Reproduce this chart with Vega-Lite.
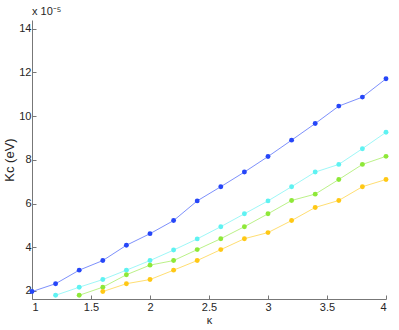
{
  "$schema": "https://vega.github.io/schema/vega-lite/v6.json",
  "width": 354,
  "height": 279,
  "autosize": "none",
  "padding": {"left": 32, "top": 20, "right": 13, "bottom": 31},
  "background": "white",
  "title": {"text": "x 10⁻⁵", "anchor": "start", "frame": "group", "font": "Liberation Sans", "fontSize": 11, "fontWeight": "normal", "color": "#262626", "offset": 3},
  "config": {"view": {"stroke": null}},
  "data": {"values": [
    {"s": "a", "k": 1.0, "v": 1.97}, {"s": "a", "k": 1.2, "v": 2.33}, {"s": "a", "k": 1.4, "v": 2.95}, {"s": "a", "k": 1.6, "v": 3.39},
    {"s": "a", "k": 1.8, "v": 4.09}, {"s": "a", "k": 2.0, "v": 4.62}, {"s": "a", "k": 2.2, "v": 5.22}, {"s": "a", "k": 2.4, "v": 6.12},
    {"s": "a", "k": 2.6, "v": 6.77}, {"s": "a", "k": 2.8, "v": 7.44}, {"s": "a", "k": 3.0, "v": 8.15}, {"s": "a", "k": 3.2, "v": 8.90},
    {"s": "a", "k": 3.4, "v": 9.66}, {"s": "a", "k": 3.6, "v": 10.46}, {"s": "a", "k": 3.8, "v": 10.87}, {"s": "a", "k": 4.0, "v": 11.71},
    {"s": "b", "k": 1.2, "v": 1.80}, {"s": "b", "k": 1.4, "v": 2.17}, {"s": "b", "k": 1.6, "v": 2.52}, {"s": "b", "k": 1.8, "v": 2.95},
    {"s": "b", "k": 2.0, "v": 3.39}, {"s": "b", "k": 2.2, "v": 3.87}, {"s": "b", "k": 2.4, "v": 4.38}, {"s": "b", "k": 2.6, "v": 4.94},
    {"s": "b", "k": 2.8, "v": 5.53}, {"s": "b", "k": 3.0, "v": 6.12}, {"s": "b", "k": 3.2, "v": 6.77}, {"s": "b", "k": 3.4, "v": 7.44},
    {"s": "b", "k": 3.6, "v": 7.79}, {"s": "b", "k": 3.8, "v": 8.51}, {"s": "b", "k": 4.0, "v": 9.26},
    {"s": "c", "k": 1.4, "v": 1.80}, {"s": "c", "k": 1.6, "v": 2.17}, {"s": "c", "k": 1.8, "v": 2.74}, {"s": "c", "k": 2.0, "v": 3.18},
    {"s": "c", "k": 2.2, "v": 3.39}, {"s": "c", "k": 2.4, "v": 3.89}, {"s": "c", "k": 2.6, "v": 4.39}, {"s": "c", "k": 2.8, "v": 4.94},
    {"s": "c", "k": 3.0, "v": 5.53}, {"s": "c", "k": 3.2, "v": 6.14}, {"s": "c", "k": 3.4, "v": 6.43}, {"s": "c", "k": 3.6, "v": 7.10},
    {"s": "c", "k": 3.8, "v": 7.79}, {"s": "c", "k": 4.0, "v": 8.16},
    {"s": "d", "k": 1.6, "v": 1.97}, {"s": "d", "k": 1.8, "v": 2.33}, {"s": "d", "k": 2.0, "v": 2.52}, {"s": "d", "k": 2.2, "v": 2.95},
    {"s": "d", "k": 2.4, "v": 3.39}, {"s": "d", "k": 2.6, "v": 3.89}, {"s": "d", "k": 2.8, "v": 4.39}, {"s": "d", "k": 3.0, "v": 4.67},
    {"s": "d", "k": 3.2, "v": 5.22}, {"s": "d", "k": 3.4, "v": 5.82}, {"s": "d", "k": 3.6, "v": 6.14}, {"s": "d", "k": 3.8, "v": 6.77},
    {"s": "d", "k": 4.0, "v": 7.10}
  ]},
  "encoding": {
    "x": {"field": "k", "type": "quantitative",
      "scale": {"domain": [1, 4], "nice": false, "zero": false},
      "axis": {"title": "κ", "values": [1, 1.5, 2, 2.5, 3, 3.5, 4], "format": "~g", "grid": false,
        "domainColor": "#777777", "tickColor": "#777777", "tickSize": -4, "labelPadding": 6,
        "labelFont": "Liberation Sans", "labelFontSize": 11, "labelColor": "#262626",
        "titleFont": "Liberation Sans", "titleFontSize": 11, "titleFontWeight": "normal", "titleColor": "#262626", "titlePadding": 2}},
    "y": {"field": "v", "type": "quantitative",
      "scale": {"domain": [1.63, 14.4], "nice": false, "zero": false},
      "axis": {"title": "Kc (eV)", "values": [2, 4, 6, 8, 10, 12, 14], "grid": false,
        "domainColor": "#777777", "tickColor": "#777777", "tickSize": -4, "labelPadding": 5,
        "labelFont": "Liberation Sans", "labelFontSize": 11, "labelColor": "#262626",
        "titleFont": "Liberation Sans", "titleFontSize": 13, "titleFontWeight": "normal", "titleColor": "#262626", "titlePadding": 2}},
    "color": {"field": "s", "type": "nominal", "legend": null,
      "scale": {"domain": ["a", "b", "c", "d"], "range": ["#2646f8", "#5ef2f2", "#8ee838", "#ffc814"]}}
  },
  "layer": [
    {"mark": {"type": "line", "strokeWidth": 1, "opacity": 0.6}},
    {"mark": {"type": "point", "filled": true, "size": 24, "opacity": 1}}
  ]
}
